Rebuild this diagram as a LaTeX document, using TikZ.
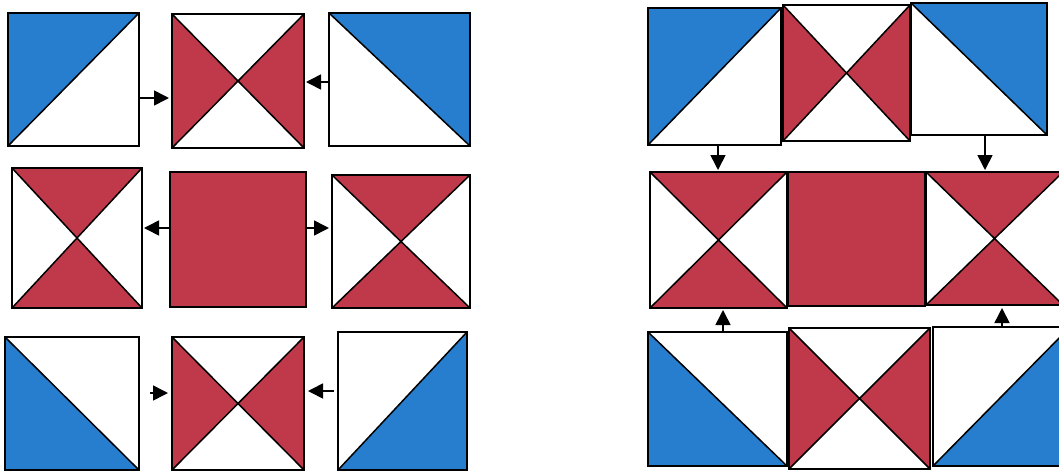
\documentclass[tikz,border=0pt]{standalone}
\usetikzlibrary{arrows.meta}
\definecolor{quiltblue}{RGB}{40,126,206}
\definecolor{quiltred}{RGB}{192,57,75}
\def\tilebox{path picture bounding box}

\begin{document}
\begin{tikzpicture}[
    x=1pt, y=-1pt,
    tile/.style={
        draw=black, fill=white, line width=1.5pt,
        inner sep=0pt, outer sep=0pt
    },
    seam/.style={line width=1.5pt, black},
    nwblue/.style={tile, path picture={
        \fill[quiltblue] (\tilebox.north west) -- (\tilebox.north east) -- (\tilebox.south west) -- cycle;
        \draw[seam] (\tilebox.south west) -- (\tilebox.north east);
    }},
    neblue/.style={tile, path picture={
        \fill[quiltblue] (\tilebox.north west) -- (\tilebox.north east) -- (\tilebox.south east) -- cycle;
        \draw[seam] (\tilebox.north west) -- (\tilebox.south east);
    }},
    swblue/.style={tile, path picture={
        \fill[quiltblue] (\tilebox.north west) -- (\tilebox.south west) -- (\tilebox.south east) -- cycle;
        \draw[seam] (\tilebox.north west) -- (\tilebox.south east);
    }},
    seblue/.style={tile, path picture={
        \fill[quiltblue] (\tilebox.north east) -- (\tilebox.south east) -- (\tilebox.south west) -- cycle;
        \draw[seam] (\tilebox.south west) -- (\tilebox.north east);
    }},
    redwings/.style={tile, path picture={
        \fill[quiltred] (\tilebox.north west) -- (\tilebox.center) -- (\tilebox.south west) -- cycle;
        \fill[quiltred] (\tilebox.north east) -- (\tilebox.center) -- (\tilebox.south east) -- cycle;
        \draw[seam] (\tilebox.north west) -- (\tilebox.south east)
                    (\tilebox.north east) -- (\tilebox.south west);
    }},
    redhourglass/.style={tile, path picture={
        \fill[quiltred] (\tilebox.north west) -- (\tilebox.center) -- (\tilebox.north east) -- cycle;
        \fill[quiltred] (\tilebox.south west) -- (\tilebox.center) -- (\tilebox.south east) -- cycle;
        \draw[seam] (\tilebox.north west) -- (\tilebox.south east)
                    (\tilebox.north east) -- (\tilebox.south west);
    }},
    redsolid/.style={tile, fill=quiltred},
    arrowstyle/.style={
        -{Triangle[length=15pt,width'=0pt 1.0]}, line width=1.6pt, black
    }
]
\clip (0,0) rectangle (1059,472);

% Left block, top row
\node[nwblue, minimum width=131pt, minimum height=133pt] (a1) at (73.5,79.5) {};
\node[redwings, minimum width=132pt, minimum height=134pt] (a2) at (238,81) {};
\node[neblue, minimum width=141pt, minimum height=133pt] (a3) at (399.5,79.5) {};

% Left block, middle row
\node[redhourglass, minimum width=130pt, minimum height=140pt] (b1) at (77,238) {};
\node[redsolid, minimum width=136pt, minimum height=135pt] (b2) at (238,239.5) {};
\node[redhourglass, minimum width=138pt, minimum height=133pt] (b3) at (401,241.5) {};

% Left block, bottom row
\node[swblue, minimum width=134pt, minimum height=133pt] (c1) at (72,403.5) {};
\node[redwings, minimum width=132pt, minimum height=133pt] (c2) at (238,403.5) {};
\node[seblue, minimum width=129pt, minimum height=138pt] (c3) at (402.5,401) {};

% Left block arrows
\draw[arrowstyle, shorten >=3pt] ([yshift=-18.5pt]a1.east) -- ([yshift=-18.5pt]a1.east -| a2.west);
\draw[arrowstyle, shorten >=2pt] ([yshift=-2.5pt]a3.west) -- ([yshift=-2.5pt]a3.west -| a2.east);
\draw[arrowstyle, shorten >=2pt] ([yshift=11.5pt]b2.west) -- ([yshift=11.5pt]b2.west -| b1.east);
\draw[arrowstyle, shorten >=3pt] ([yshift=11.5pt]b2.east) -- ([yshift=11.5pt]b2.east -| b3.west);
\draw[arrowstyle, shorten <=11pt, shorten >=4pt] ([yshift=10.5pt]c1.east) -- ([yshift=10.5pt]c1.east -| c2.west);
\draw[arrowstyle, shorten <=4pt, shorten >=4pt] ([yshift=10pt]c3.west) -- ([yshift=10pt]c3.west -| c2.east);

% Right block, top row
\node[nwblue, minimum width=133pt, minimum height=137pt] (d1) at (714.5,76.5) {};
\node[redwings, minimum width=127pt, minimum height=136pt] (d2) at (846.5,73) {};
\node[neblue, minimum width=136pt, minimum height=132pt] (d3) at (979,69) {};

% Right block, middle row
\node[redhourglass, minimum width=137pt, minimum height=136pt] (e1) at (718.5,240) {};
\node[redsolid, minimum width=137pt, minimum height=134pt] (e2) at (856.5,239) {};
\node[redhourglass, minimum width=137pt, minimum height=133pt] (e3) at (994.5,238.5) {};

% Right block, bottom row
\node[swblue, minimum width=139pt, minimum height=134pt] (f1) at (717.5,399) {};
\node[redwings, minimum width=141pt, minimum height=141pt] (f2) at (859.5,398.5) {};
\node[seblue, minimum width=137pt, minimum height=139pt] (f3) at (1001.5,396.5) {};

% Right block arrows
\draw[arrowstyle, shorten >=2pt] ([xshift=3.5pt]d1.south) -- ([xshift=3.5pt]d1.south |- e1.north);
\draw[arrowstyle, shorten >=2pt] ([xshift=6pt]d3.south) -- ([xshift=6pt]d3.south |- e3.north);
\draw[arrowstyle, shorten >=2pt] ([xshift=5.5pt]f1.north) -- ([xshift=5.5pt]f1.north |- e1.south);
\draw[arrowstyle, shorten >=3pt] ([xshift=0.5pt]f3.north) -- ([xshift=0.5pt]f3.north |- e3.south);

\end{tikzpicture}
\end{document}
